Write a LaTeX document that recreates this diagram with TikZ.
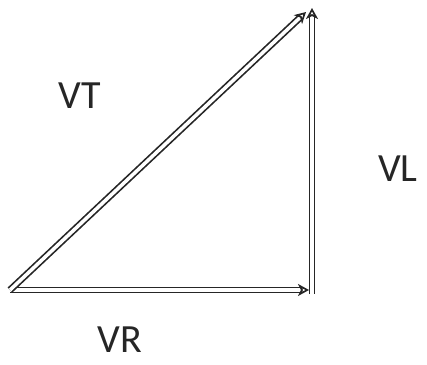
\documentclass[tikz,border=0pt]{standalone}
\usepackage{fontspec}
\setmainfont{Carlito}
\usetikzlibrary{arrows.meta}
\begin{document}
\begin{tikzpicture}[x=1pt,y=1pt,
  vec/.style={draw=black!85, double=white, double distance=3.5pt, line width=1.7pt,
    -{Stealth[open,length=11pt,width=12pt,inset=3pt]}},
  lbl/.style={font=\fontsize{40}{44}\selectfont, text=black!85, inner sep=0pt}]
\useasboundingbox (0,0) rectangle (427,364);
\coordinate (A) at (10,74);
\coordinate (B) at (309,74);
\coordinate (Cb) at (312,70);
\coordinate (C) at (312,356);
\coordinate (D) at (306,352);
\draw[vec] (A) -- (B);
\draw[vec] (Cb) -- (C);
\draw[vec] (A) -- (D);
\node[lbl] (vt) at (80,268) {VT};
\node[lbl, anchor=west] (vl) at (378,195) {VL};
\node[lbl] (vr) at (120,24) {VR};
\end{tikzpicture}
\end{document}
